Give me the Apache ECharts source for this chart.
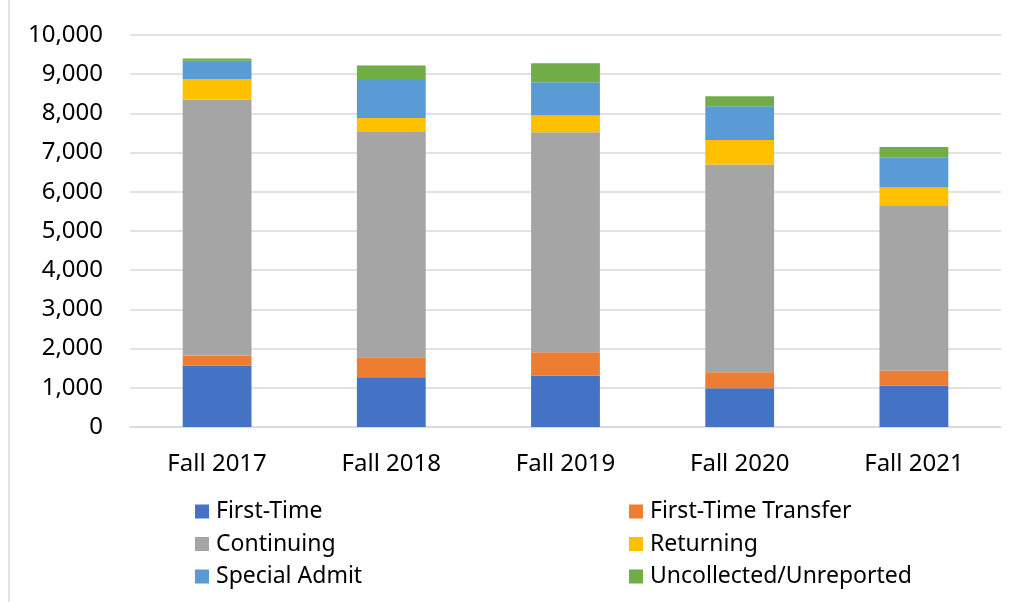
<!DOCTYPE html>
<html>
  <head>
    <meta charset="utf-8">
    <title>Enrollment by student type</title>
    <script src="https://cdn.jsdelivr.net/npm/echarts@6/dist/echarts.min.js"></script>
    <style>
      html, body { margin: 0; padding: 0; background: #fff; }
    </style>
  </head>
  <body>
    <div id="main" style="width:1018px;height:602px;"></div>
    <script>
// data
var terms = ['Fall 2017', 'Fall 2018', 'Fall 2019', 'Fall 2020', 'Fall 2021'];
var firstTime   = [1570, 1270, 1310, 990, 1060];
var ftTransfer  = [255, 510, 595, 405, 380];
var continuing  = [6525, 5745, 5615, 5300, 4200];
var returning   = [527, 357, 425, 629, 468];
var specialAdmit = [467, 994, 850, 858, 773];
var uncollected = [59, 348, 484, 255, 263];
var yTicks = [0, 1000, 2000, 3000, 4000, 5000, 6000, 7000, 8000, 9000, 10000];

var font = '"Noto Sans", "Open Sans", sans-serif';
var grid = '#d9d9d9';

function bar(name, data, color) {
  return {
    name: name,
    type: 'bar',
    stack: 'total',
    barWidth: '39.5%',
    data: data,
    itemStyle: { color: color }
  };
}

var legendText = { fontSize: 23, color: '#000', fontFamily: font, padding: [0, 0, 0, 2] };

var myChart = echarts.init(document.getElementById('main'));
myChart.setOption({
  animation: false,
  textStyle: { fontFamily: font },
  grid: { left: 130, right: 17, top: 35, bottom: 175 },
  graphic: [{
    type: 'line',
    shape: { x1: 9, y1: 0, x2: 9, y2: 602 },
    style: { stroke: grid, lineWidth: 1.5 }
  }],
  legend: [{
    orient: 'vertical',
    left: 190, top: 495, height: 110,
    itemWidth: 14, itemHeight: 14, itemGap: 9.5,
    icon: 'rect',
    textStyle: legendText,
    data: ['First-Time', 'Continuing', 'Special Admit']
  }, {
    orient: 'vertical',
    left: 624, top: 495, height: 110,
    itemWidth: 14, itemHeight: 14, itemGap: 9.5,
    icon: 'rect',
    textStyle: legendText,
    data: ['First-Time Transfer', 'Returning', 'Uncollected/Unreported']
  }],
  xAxis: {
    type: 'category',
    data: terms,
    axisTick: { show: false },
    axisLine: { lineStyle: { color: grid, width: 1.5 } },
    axisLabel: { color: '#000', fontSize: 24, margin: 25, fontFamily: font }
  },
  yAxis: {
    type: 'value',
    min: yTicks[0],
    max: yTicks[yTicks.length - 1],
    interval: yTicks[1] - yTicks[0],
    axisLabel: {
      color: '#000', fontSize: 24, margin: 27, fontFamily: font,
      formatter: function (v) { return v.toLocaleString('en-US'); }
    },
    splitLine: { lineStyle: { color: grid, width: 1.5 } }
  },
  series: [
    bar('First-Time', firstTime, '#4472C4'),
    bar('First-Time Transfer', ftTransfer, '#ED7D31'),
    bar('Continuing', continuing, '#A5A5A5'),
    bar('Returning', returning, '#FFC000'),
    bar('Special Admit', specialAdmit, '#5B9BD5'),
    bar('Uncollected/Unreported', uncollected, '#70AD47')
  ]
});
    </script>
  </body>
</html>
